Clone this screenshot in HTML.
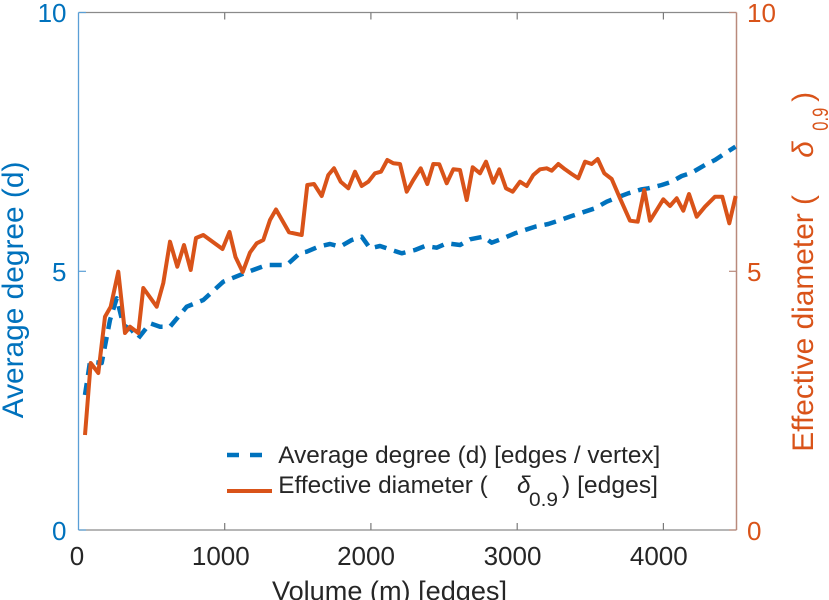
<!DOCTYPE html>
<html>
<head>
<meta charset="utf-8">
<style>
  html, body { margin: 0; padding: 0; background: #ffffff; }
  svg { display: block; }
  text { font-family: "Liberation Sans", Arial, Helvetica, sans-serif; }
</style>
</head>
<body>
<svg width="829" height="600" viewBox="0 0 829 600" xmlns="http://www.w3.org/2000/svg">
  <rect x="0" y="0" width="829" height="600" fill="#ffffff"/>

  <!-- Axes box -->
  <line x1="78.5" y1="12.5" x2="736.5" y2="12.5" stroke="#8a8a8a" stroke-width="1.3"/>
  <line x1="78.5" y1="530" x2="736.5" y2="530" stroke="#8a8a8a" stroke-width="1.3"/>
  <line x1="78.5" y1="12.5" x2="78.5" y2="530" stroke="#5a9fd6" stroke-width="1.3"/>
  <line x1="736.5" y1="12.5" x2="736.5" y2="530" stroke="#b98a7c" stroke-width="1.5"/>

  <!-- X ticks (bottom, top) -->
  <g stroke="#7a7a7a" stroke-width="1.2">
    <line x1="224.7" y1="530" x2="224.7" y2="523"/>
    <line x1="370.9" y1="530" x2="370.9" y2="523"/>
    <line x1="517.2" y1="530" x2="517.2" y2="523"/>
    <line x1="663.4" y1="530" x2="663.4" y2="523"/>
    <line x1="224.7" y1="12.5" x2="224.7" y2="19.5"/>
    <line x1="370.9" y1="12.5" x2="370.9" y2="19.5"/>
    <line x1="517.2" y1="12.5" x2="517.2" y2="19.5"/>
    <line x1="663.4" y1="12.5" x2="663.4" y2="19.5"/>
  </g>
  <!-- Left Y ticks -->
  <g stroke="#5a9fd6" stroke-width="1.2">
    <line x1="78.5" y1="12.5" x2="86" y2="12.5"/>
    <line x1="78.5" y1="271.3" x2="86" y2="271.3"/>
    <line x1="78.5" y1="530" x2="86" y2="530"/>
  </g>
  <!-- Right Y ticks -->
  <g stroke="#b98a7c" stroke-width="1.2">
    <line x1="736.5" y1="12.5" x2="729" y2="12.5"/>
    <line x1="736.5" y1="271.3" x2="729" y2="271.3"/>
    <line x1="736.5" y1="530" x2="729" y2="530"/>
  </g>

  <!-- X tick labels -->
  <g fill="#262626" font-size="26" text-anchor="middle">
    <text x="77" y="565">0</text>
    <text x="220.8" y="565">1000</text>
    <text x="366" y="565">2000</text>
    <text x="512.5" y="565">3000</text>
    <text x="658.8" y="565">4000</text>
  </g>
  <!-- Left Y tick labels -->
  <g fill="#0072BD" font-size="26" text-anchor="end">
    <text x="66.5" y="22">10</text>
    <text x="66.5" y="281">5</text>
    <text x="66.5" y="540">0</text>
  </g>
  <!-- Right Y tick labels -->
  <g fill="#D95319" font-size="26" text-anchor="start">
    <text x="747" y="22">10</text>
    <text x="747" y="281">5</text>
    <text x="747" y="540">0</text>
  </g>

  <!-- X label -->
  <text x="272" y="600" font-size="27" fill="#262626" textLength="235" lengthAdjust="spacingAndGlyphs">Volume (m) [edges]</text>

  <!-- Left Y label -->
  <text transform="translate(23,418.3) rotate(-90)" x="0" y="0" font-size="29.7" fill="#0072BD" textLength="256.7" lengthAdjust="spacingAndGlyphs">Average degree (d)</text>

  <!-- Right Y label -->
  <g transform="translate(813,451.7) rotate(-90)" fill="#D95319">
    <text x="0" y="0" font-size="29.7" textLength="256.7" lengthAdjust="spacingAndGlyphs">Effective diameter (</text>
    <text x="294" y="0" font-size="29.7" font-style="italic" font-family="Liberation Serif, serif">δ</text>
    <text x="321" y="15" font-size="22" textLength="23" lengthAdjust="spacingAndGlyphs">0.9</text>
    <text x="350" y="0" font-size="29.7">)</text>
  </g>

  <!-- Data: Average degree (blue dashed) -->
  <polyline fill="none" stroke="#0072BD" stroke-width="4.5" stroke-dasharray="12 8" stroke-linejoin="round"
    points="85,395 90,361.7 101.7,363 110,320 116.7,298.3 123.3,325 131.7,330 138.3,338.3 150,323.3 160,326.7 170,326.7 186.7,306.7 203.3,300 223.3,281.7 245,273 266.7,265 286.7,265 300,253 306.7,251.7 318.3,246.7 330,244 340,246.7 351.7,240 361.7,236.7 370,248.3 380,246 391.7,250 401.7,253.3 415,250 425,246 436.7,247.7 446.7,243.3 460,245 470,239.3 483.3,236.7 491.7,242.7 503.3,238.3 515,233.3 525,230 535,226.7 548.3,224 558.3,220.7 571.7,216 581.7,212.7 595,208.3 606.7,201.7 615,198.3 628.3,193.3 641.7,189.3 648.3,188.3 661.7,185 671.7,181.7 681.7,176 691.7,172.7 705,165 715,160 725,153.3 735.5,146.7"/>

  <!-- Data: Effective diameter (orange solid) -->
  <polyline fill="none" stroke="#D95319" stroke-width="4" stroke-linejoin="round"
    points="85,435 90.7,363 98.3,373 105,316.7 110.7,306.7 118.3,271.7 125,333 130,326.7 138.3,333 143.3,288 156.7,306.7 163.3,283 170,241.7 177.3,266.7 184,245 190.7,270 196,238 203.3,235 222.5,249 229.5,232 235.5,257 242.7,272 250,252.5 256.7,243.3 263.3,240 270,220 276,209.5 289,232.3 301.7,235 307.3,185 314,184 321.7,196 328.3,175 334,168.3 340.7,181.7 348.3,188.3 355,171.7 361.7,186 368.3,181.7 375,173.3 381,171.7 387.3,160 393.3,163.3 400,164 406.7,191.7 413.3,180 420.7,168.3 427.3,184 433.3,164 439.3,164.3 446.7,183.3 453.3,169.3 460,170 466.7,200 472.7,167.3 480,173.3 486,161.7 493.3,182.7 499.3,169.3 506,188.3 512.7,191.7 520,181.7 526.7,186 533.3,175 540,169.3 546.7,168.3 551.7,170.7 558.3,164 565,169.3 571.7,174 578.3,178.3 585,161.7 591.7,164 597.7,159 604.3,173.3 611.7,179 620,198.3 630,220.7 637.7,221.7 644.3,190 650,220.7 656.7,210 663.3,199.3 670,206 676.7,198.3 683.3,210.7 689,194 696.7,216.7 705,206.7 715,196.7 722.3,196.7 729.3,223.3 735.7,196"/>

  <!-- Legend -->
  <line x1="227" y1="455" x2="263" y2="455" stroke="#0072BD" stroke-width="4.5" stroke-dasharray="12 11"/>
  <line x1="227" y1="491" x2="272" y2="491" stroke="#D95319" stroke-width="4"/>
  <text x="278.3" y="463" font-size="24.3" fill="#262626" textLength="382" lengthAdjust="spacingAndGlyphs">Average degree (d) [edges / vertex]</text>
  <text x="278.3" y="493" font-size="24.3" fill="#262626" textLength="209.5" lengthAdjust="spacingAndGlyphs">Effective diameter (</text>
  <text x="517" y="493" font-size="24.3" fill="#262626" font-style="italic" font-family="Liberation Serif, serif">δ</text>
  <text x="529" y="506" font-size="19" fill="#262626" textLength="29" lengthAdjust="spacingAndGlyphs">0.9</text>
  <text x="562" y="493" font-size="24.3" fill="#262626" textLength="96" lengthAdjust="spacingAndGlyphs">) [edges]</text>
</svg>
</body>
</html>
